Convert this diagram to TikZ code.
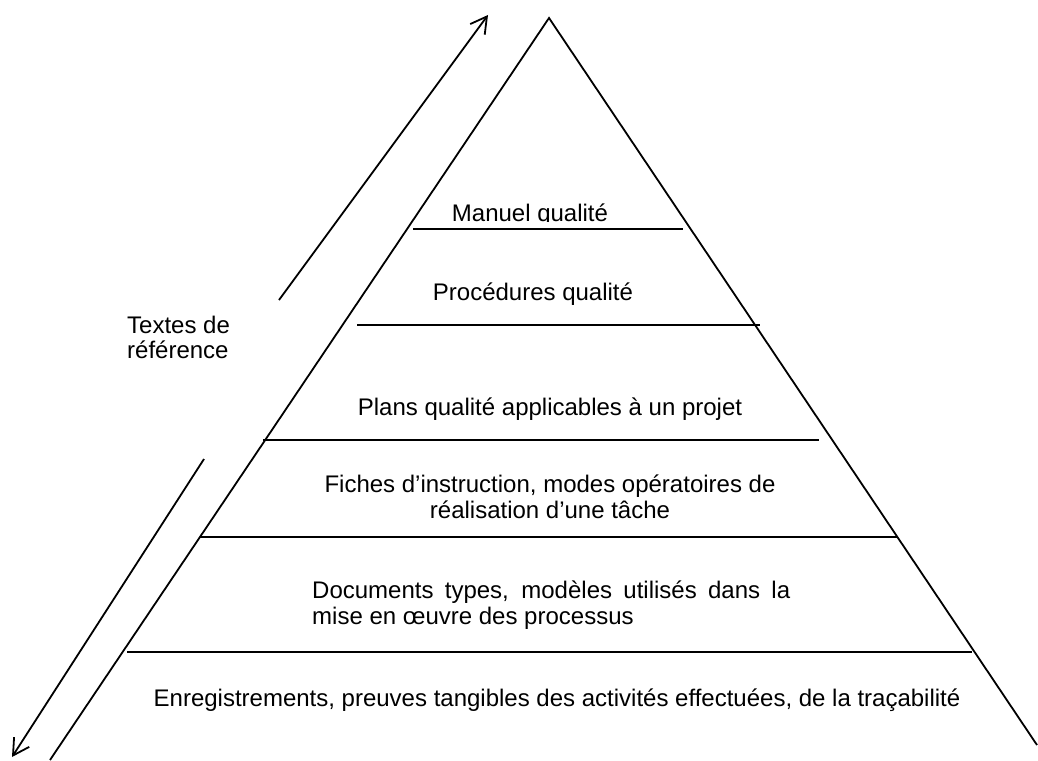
\documentclass[tikz,border=0pt]{standalone}
\usepackage{fontspec}
\setmainfont{Liberation Sans}
\usetikzlibrary{arrows.meta}
\begin{document}
\begin{tikzpicture}[x=1pt,y=-1pt,
  lbl/.style={font=\fontsize{24}{26}\selectfont, inner sep=0pt, anchor=base},
  sep/.style={line width=1.3pt},
  sepend/.style={line width=2.2pt},
  side/.style={line width=1.8pt},
  refarrow/.style={line width=1.8pt, -{Straight Barb[length=16pt,width=18pt,line width=1.8pt]}}]

  \useasboundingbox (0,0) rectangle (1038,760);

  % TRIANGLE
  \coordinate (apex) at (549,18);
  \coordinate (baseleft) at (50,760);
  \coordinate (baseright) at (1037,745);
  \draw [side] (baseleft) -- (apex) -- (baseright);

  % ARROWS
  \coordinate (uptail) at (279,300);
  \coordinate (uphead) at (488,15);
  \draw [refarrow] (uptail) -- (uphead);
  \coordinate (downtail) at (204,459);
  \coordinate (downhead) at (12,757);
  \draw [refarrow] (downtail) -- (downhead);

  \node [lbl, anchor=base west] (textesa) at (127,333) {Textes de};
  \node [lbl, anchor=base west] (textesb) at (127,358) {référence};

  % LEVELS
  \draw [sep] (413,229) -- (683,229);
  \draw [sepend] (413,229) -- (433,229);
  \draw [sepend] (645,229) -- (683,229);

  \draw [sep] (357,325) -- (760,325);
  \draw [sepend] (357,325) -- (413,325);
  \draw [sepend] (683,325) -- (760,325);

  \draw [sep] (263,440) -- (819,440);
  \draw [sep] (200,537) -- (897,537);
  \draw [sep] (127,652) -- (972,652);

  % TEXTS
  \begin{scope}
    \clip (400,150) rectangle (700,221);
    \node [lbl] (manuel) at (530,221) {Manuel qualité};
  \end{scope}

  \node [lbl] (procedures) at (533,300) {Procédures qualité};

  \node [lbl] (plans) at (550,415) {Plans qualité applicables à un projet};

  \node [lbl] (fichesa) at (550,492) {Fiches d’instruction, modes opératoires de};
  \node [lbl] (fichesb) at (550,518) {réalisation d’une tâche};

  \node [lbl, anchor=base west] (docsa) at (312,598) {\makebox[478pt][s]{Documents types, modèles utilisés dans la}};
  \node [lbl, anchor=base west] (docsb) at (312,624) {mise en œuvre des processus};

  \node [lbl] (enreg) at (557,706) {Enregistrements, preuves tangibles des activités effectuées, de la traçabilité};

\end{tikzpicture}
\end{document}
